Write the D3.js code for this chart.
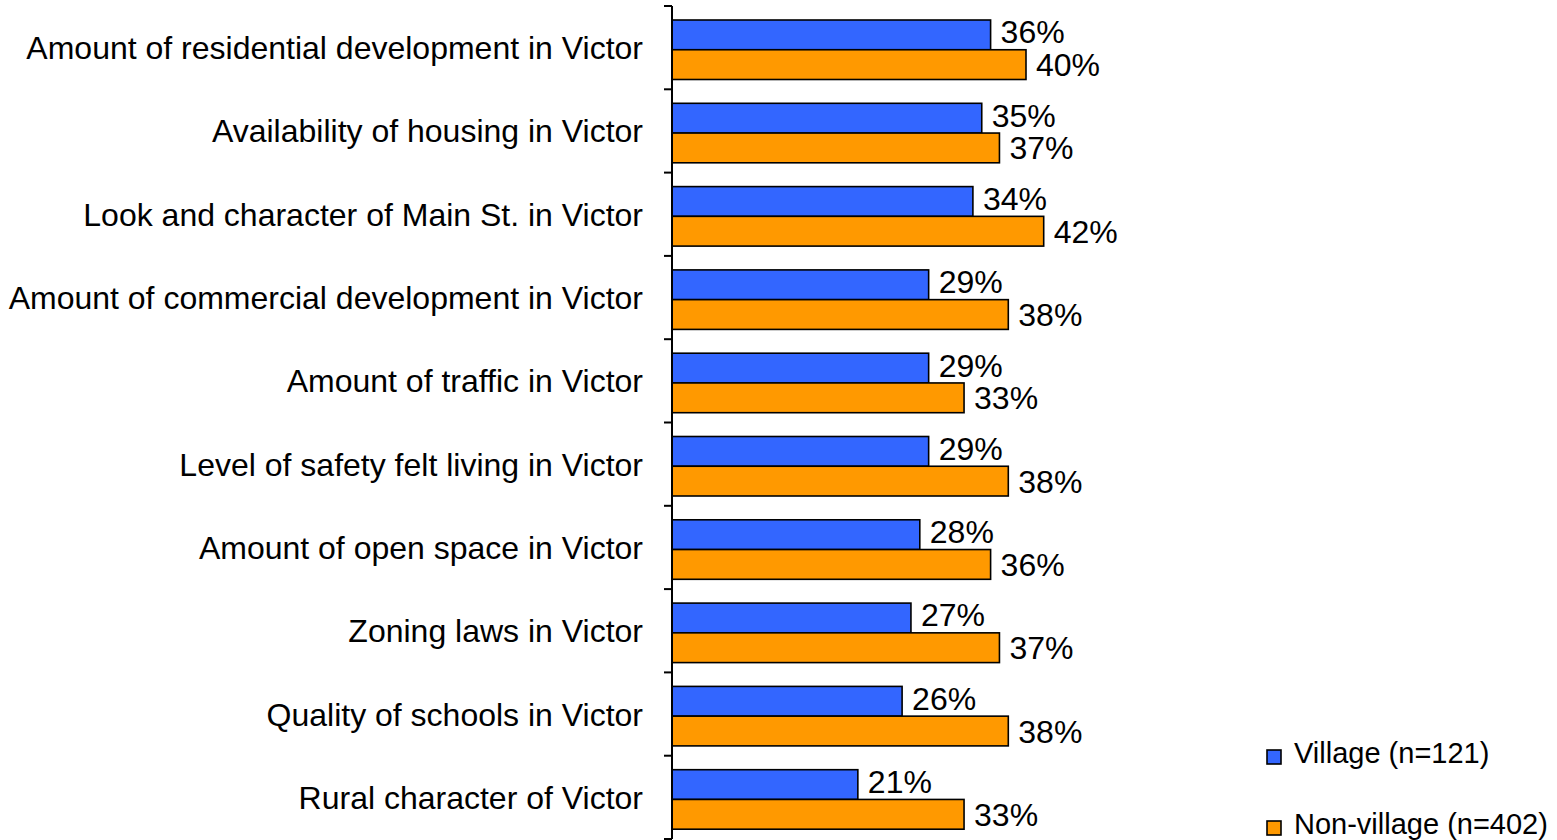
<!DOCTYPE html>
<html>
<head>
<meta charset="utf-8">
<script src="https://d3js.org/d3.v7.min.js"></script>
<style>
  body { margin: 0; background: #fff; }
  text { font-family: "Liberation Sans", Arial, sans-serif; fill: #000; }
</style>
</head>
<body>
<div id="chart"></div>
<script>
var svgWidth = 1557;
var svgHeight = 840;

// Data
var categories = [
  "Amount of residential development in Victor",
  "Availability of housing in Victor",
  "Look and character of Main St. in Victor",
  "Amount of commercial development in Victor",
  "Amount of traffic in Victor",
  "Level of safety felt living in Victor",
  "Amount of open space in Victor",
  "Zoning laws in Victor",
  "Quality of schools in Victor",
  "Rural character of Victor"
];
var seriesNames = ["Village (n=121)", "Non-village (n=402)"];
var villageValues = [36, 35, 34, 29, 29, 29, 28, 27, 26, 21];
var nonVillageValues = [40, 37, 42, 38, 33, 38, 36, 37, 38, 33];
var colors = ["#3366FF", "#FF9900"];

var data = categories.map(function(c, i) {
  return { category: c, values: [villageValues[i], nonVillageValues[i]] };
});

var svg = d3.select("#chart")
  .append("svg")
  .attr("width", svgWidth)
  .attr("height", svgHeight);

// Scales
var axisX = 672;
var xScale = d3.scaleLinear()
  .domain([0, 100])
  .range([axisX, axisX + 885]);

var yScale = d3.scaleBand()
  .domain(categories)
  .range([6, 839])
  .padding(0);

var yInner = d3.scaleBand()
  .domain(seriesNames)
  .range([14, 73.5])
  .padding(0);

// Bars
var groups = svg.selectAll("g.cat")
  .data(data)
  .enter()
  .append("g")
  .attr("class", "cat")
  .attr("transform", d => `translate(0, ${yScale(d.category)})`);

groups.selectAll("rect")
  .data(d => d.values.map((v, j) => ({ series: seriesNames[j], value: v, idx: j })))
  .enter()
  .append("rect")
  .attr("x", xScale(0))
  .attr("y", d => yInner(d.series))
  .attr("width", d => xScale(d.value) - xScale(0))
  .attr("height", yInner.bandwidth())
  .attr("fill", d => colors[d.idx])
  .attr("stroke", "#000")
  .attr("stroke-width", 1.6);

// Value labels
groups.selectAll("text.val")
  .data(d => d.values.map((v, j) => ({ series: seriesNames[j], value: v, idx: j })))
  .enter()
  .append("text")
  .attr("class", "val")
  .attr("x", d => xScale(d.value) + 10)
  .attr("y", d => yInner(d.series) + yInner.bandwidth() / 2 + (d.idx === 0 ? -3 : 0))
  .attr("dy", "0.36em")
  .attr("font-size", "32px")
  .text(d => d.value + "%");

// Axis with category labels
var leftAxis = d3.axisLeft(yScale).tickSize(0).tickPadding(29);
var axisG = svg.append("g")
  .attr("transform", `translate(${axisX}, 0)`)
  .call(leftAxis);
axisG.select(".domain").remove();
axisG.selectAll("text")
  .attr("font-size", "32px")
  .attr("fill", "#000")
  .attr("dy", "0.36em");

// axis line and boundary ticks
svg.append("line")
  .attr("x1", axisX).attr("x2", axisX)
  .attr("y1", yScale.range()[0]).attr("y2", yScale.range()[1])
  .attr("stroke", "#000")
  .attr("stroke-width", 2);

var boundaries = categories.map(c => yScale(c)).concat([yScale.range()[1]]);
svg.selectAll("line.tick")
  .data(boundaries)
  .enter()
  .append("line")
  .attr("class", "tick")
  .attr("x1", axisX - 8).attr("x2", axisX)
  .attr("y1", d => d).attr("y2", d => d)
  .attr("stroke", "#000")
  .attr("stroke-width", 2);

// Legend
var legend = svg.selectAll("g.legend")
  .data(seriesNames)
  .enter()
  .append("g")
  .attr("class", "legend")
  .attr("transform", (d, i) => `translate(1267, ${763 + i * 71})`);

legend.append("rect")
  .attr("x", 0)
  .attr("y", -13)
  .attr("width", 14)
  .attr("height", 14)
  .attr("fill", (d, i) => colors[i])
  .attr("stroke", "#000")
  .attr("stroke-width", 1.6);

legend.append("text")
  .attr("x", 27)
  .attr("y", 0)
  .attr("font-size", "29px")
  .text(d => d);
</script>
</body>
</html>
